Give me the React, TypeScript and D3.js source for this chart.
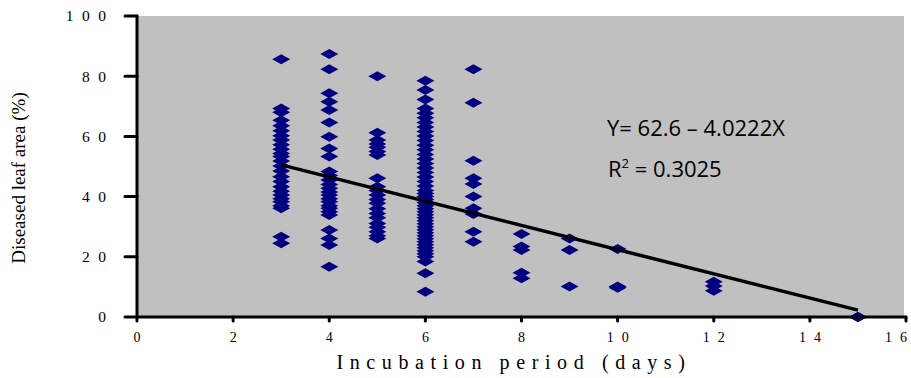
import { useEffect } from 'react';
import * as d3 from 'd3';

// incubation period (days) per column of readings
const col3 = [85.6, 69.3, 68, 65.4, 63.5, 61.9, 60.2, 58.8, 57.2, 55.7, 54.3, 53.3, 51.8, 50.2, 48.5, 46.6, 45.0, 43.3, 41.8, 40.5, 39.3, 38.3, 37.0, 36.1, 26.7, 24.5];
const col4 = [87.4, 82.3, 74.3, 71.5, 68.8, 64.6, 59.9, 56.0, 53.3, 48.3, 47, 45.5, 44, 42.8, 41.5, 40.5, 39.3, 38.3, 37, 36.1, 35, 33.9, 28.9, 26.1, 23.9, 16.7];
const col5 = [80.0, 61.2, 58.8, 57.5, 56.4, 55, 53.8, 46.1, 43.3, 42, 40.5, 39, 37.8, 36, 34.4, 33, 31.1, 29.8, 28.3, 27, 26.1];
const col6 = [78.5, 75.4, 72.3, 69.3, 67.7, 66.2, 64.6, 63.1, 61.6, 60.1, 58.6, 57.1, 55.6, 54.0, 52.5, 51, 49.5, 48, 46.5, 45, 43.5, 42, 41, 40, 39, 38, 37, 36, 35, 34, 33, 32, 31, 30, 29, 28, 27, 26, 25, 24, 23, 22, 21, 20, 18.4, 14.5, 8.4];
const col7 = [82.3, 71.2, 51.9, 46.1, 44.2, 40.0, 36.1, 34.2, 28.3, 25.0];
const col8 = [27.6, 23.4, 22.3, 14.7, 12.9];
const col9 = [26.1, 22.3, 10.1];
const col10 = [22.6, 10.1, 9.7];
const col12 = [11.7, 10.3, 8.7];
const col15 = [0, 0, 0];

const columns: [number, number[]][] = [
  [3, col3], [4, col4], [5, col5], [6, col6], [7, col7],
  [8, col8], [9, col9], [10, col10], [12, col12], [15, col15],
];

const xTicks = [0, 2, 4, 6, 8, 10, 12, 14, 16];
const yTicks = [0, 20, 40, 60, 80, 100];

// regression fit Y = 62.6 - 4.0222X, drawn over observed range
const intercept = 62.6;
const slope = -4.0222;
const fitRange = [3, 15];

const W = 911;
const H = 378;
const left = 137;
const right = 904;
const top = 16;
const bottom = 317;

// digits spread apart like the original; gap only between digits
function Spread({ value, gap }: { value: number; gap: number }) {
  const chars = String(value).split('');
  return (
    <>
      {chars.map((c, i) => (
        <tspan key={i} dx={i === 0 ? 0 : gap}>{c}</tspan>
      ))}
    </>
  );
}

export default function App() {
  useEffect(() => {
    document.body.style.margin = '0';
  }, []);

  const x = d3.scaleLinear().domain([0, 16]).range([left, right + 2]);
  const y = d3.scaleLinear().domain([0, 100]).range([bottom, top]);

  const points = columns.flatMap(([d, vals]) => vals.map(v => ({ d, v })));
  const diamond = 'M0,-5L9,0L0,5L-9,0Z';

  const fitLine = d3.line<number>()
    .x(d => x(d))
    .y(d => y(intercept + slope * d))(fitRange);

  const serif = '"Liberation Serif", "Times New Roman", serif';

  const xLabelStart = (t: number) => {
    const w = t >= 10 ? 22 : 7;
    return Math.min(x(t) - w / 2, W - w - 4);
  };

  return (
    <svg width={W} height={H} style={{ display: 'block', background: '#fff' }}>
      <rect x={left} y={top} width={right - left} height={bottom - top} fill="#c0c0c0" />

      {/* points */}
      <g fill="#000080">
        {points.map((p, i) => (
          <path key={i} d={diamond} transform={`translate(${x(p.d)},${y(p.v)})`} />
        ))}
      </g>

      {/* regression */}
      <path d={fitLine ?? ''} stroke="#000" strokeWidth={3.5} fill="none" />

      {/* axes */}
      <g stroke="#000" strokeWidth={3} strokeLinecap="round">
        <line x1={left} x2={left} y1={top} y2={bottom} />
        <line x1={left} x2={x(16)} y1={bottom} y2={bottom} />
        {yTicks.map(t => (
          <line key={t} x1={left - 12} x2={left} y1={y(t)} y2={y(t)} />
        ))}
        {xTicks.map(t => (
          <line key={t} x1={x(t)} x2={x(t)} y1={bottom} y2={bottom + 4} />
        ))}
      </g>

      <g fontFamily={serif} fill="#000">
        {yTicks.map(t => (
          <text key={t} x={106} y={y(t)} dy="0.35em" textAnchor="end" fontSize={15.5}>
            <Spread value={t} gap={8.5} />
          </text>
        ))}
        {xTicks.map(t => (
          <text key={t} x={xLabelStart(t)} y={342} fontSize={14}>
            <Spread value={t} gap={8} />
          </text>
        ))}
      </g>

      <text x={514} y={369} textAnchor="middle" fontFamily={serif} fontSize={20} letterSpacing={6.6}>
        Incubation period (days)
      </text>
      <text transform={`translate(25,${178}) rotate(-90)`} textAnchor="middle" fontFamily={serif} fontSize={19}>
        Diseased leaf area (%)
      </text>

      <g fontFamily='"Open Sans", "Noto Sans", sans-serif' fontSize={22} fill="#000">
        <text x={607} y={136}>Y= 62.6 – 4.0222X</text>
        <text x={608} y={177}>
          R<tspan dy={-9} fontSize={13}>2</tspan><tspan dy={9}> = 0.3025</tspan>
        </text>
      </g>
    </svg>
  );
}
